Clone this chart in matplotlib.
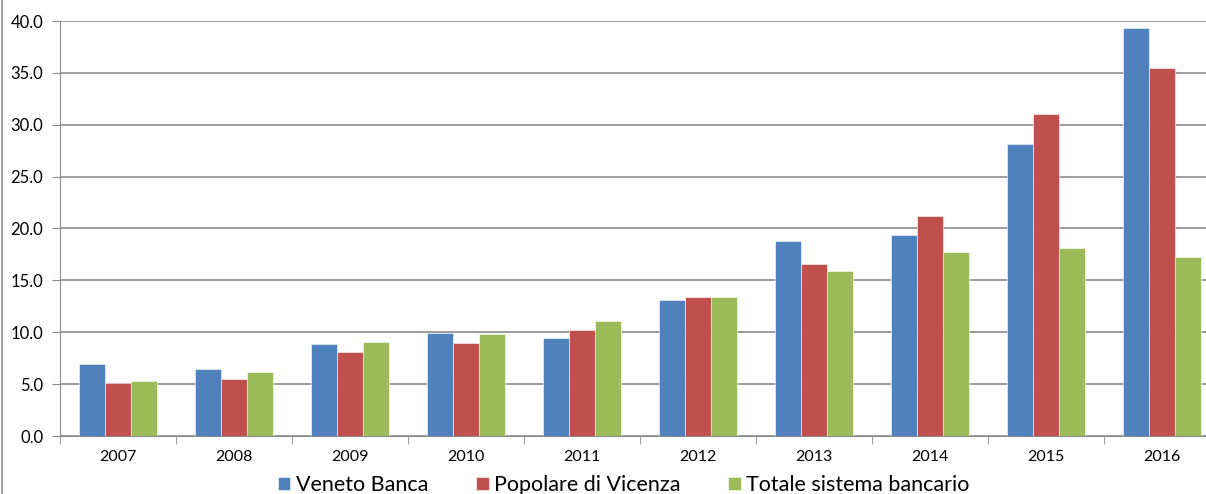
import matplotlib.pyplot as plt
import numpy as np

years = ['2007', '2008', '2009', '2010', '2011', '2012', '2013', '2014', '2015', '2016']
veneto = [6.9, 6.5, 8.9, 9.9, 9.4, 13.1, 18.8, 19.4, 28.1, 39.3]
vicenza = [5.1, 5.5, 8.1, 9.0, 10.2, 13.4, 16.6, 21.2, 31.0, 35.5]
totale = [5.3, 6.2, 9.1, 9.8, 11.1, 13.4, 15.9, 17.7, 18.1, 17.3]
labels = ['Veneto Banca', 'Popolare di Vicenza', 'Totale sistema bancario']
colors = ['#4F81BD', '#C0504D', '#9BBB59']

plt.rcParams['font.family'] = ['Lato', 'DejaVu Sans']

fig = plt.figure(figsize=(12.06, 4.94), dpi=100)
# plot area runs a bit past the right edge, as in the original
ax = fig.add_axes([60 / 1206, 58 / 494, 1160 / 1206, 415 / 494])

x = np.arange(len(years))
w = 1 / 4.5
for i, (vals, lab, c) in enumerate(zip([veneto, vicenza, totale], labels, colors)):
    ax.bar(x + (i - 1) * w, vals, w, color=c, label=lab, zorder=3,
           edgecolor='white', linewidth=0.4)

ax.set_xlim(-0.5, len(years) - 0.5)
ax.set_ylim(0, 40)
ax.set_yticks(np.arange(0, 41, 5))
ax.set_yticklabels(['%.1f' % v for v in np.arange(0, 41, 5)], fontsize=12)
ax.yaxis.grid(True, color='#8c8c8c', linewidth=1.2, zorder=0)

ax.set_xticks(x)
ax.set_xticklabels(years, fontsize=11.5)
ax.set_xticks(np.arange(-0.5, len(years)), minor=True)
ax.tick_params(axis='x', which='major', length=0, pad=10)
ax.tick_params(axis='x', which='minor', length=6, color='#8c8c8c')
ax.tick_params(axis='y', length=6, color='#8c8c8c', pad=6)

for s in ['top', 'right']:
    ax.spines[s].set_visible(False)
for s in ['left', 'bottom']:
    ax.spines[s].set_color('#8c8c8c')

fig.legend(loc='center', bbox_to_anchor=(0.517, 0.018), ncol=3, frameon=False,
           fontsize=15.5, handlelength=0.6, handleheight=0.6, handletextpad=0.25,
           columnspacing=2.2)

# chart border on the left
fig.add_artist(plt.Line2D([2 / 1206, 2 / 1206], [0, 1], color='#8c8c8c', linewidth=1.2))

fig.savefig('out.png', dpi=100)
